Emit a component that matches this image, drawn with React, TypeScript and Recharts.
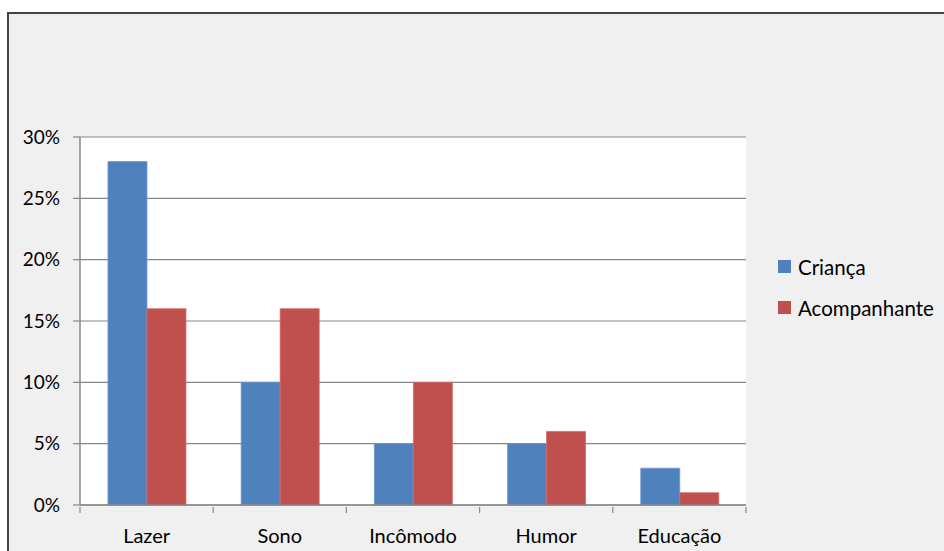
import React from "react";
import { BarChart, Bar, XAxis, YAxis, CartesianGrid } from "recharts";

const categories = ["Lazer", "Sono", "Incômodo", "Humor", "Educação"];
const criancaValues = [28, 10, 5, 5, 3];
const acompanhanteValues = [16, 16, 10, 6, 1];
const yTicks = [0, 5, 10, 15, 20, 25, 30];

const seriesNames = { crianca: "Criança", acompanhante: "Acompanhante" };
const colors = { crianca: "#4F81BD", acompanhante: "#C0504D" };

const data = categories.map((name, i) => ({
  name,
  crianca: criancaValues[i],
  acompanhante: acompanhanteValues[i],
}));

const W = 944;
const H = 551;
const xAxisHeight = 46;
const yAxisWidth = 60;
const margin = { top: 137, right: 198, bottom: 0, left: 20 };
const plotWidth = W - margin.left - margin.right - yAxisWidth;
const band = plotWidth / categories.length;
const FONT = "Lato, 'Open Sans', sans-serif";
const FONT_SIZE = 19;

const XTick = (props: any) => {
  const { x, y, payload, index } = props;
  const left = x - band / 2;
  return (
    <g>
      <line x1={left} x2={left} y1={y} y2={y + 6} stroke="#888" strokeWidth={1.2} />
      {index === categories.length - 1 && (
        <line x1={left + band} x2={left + band} y1={y} y2={y + 6} stroke="#888" strokeWidth={1.2} />
      )}
      <text x={x} y={y + 36} textAnchor="middle" fontSize={20} fill="#000" fontFamily={FONT}>
        {payload.value}
      </text>
    </g>
  );
};

const LegendBox = () => (
  <div
    style={{
      position: "absolute",
      left: 778,
      top: 246,
      fontFamily: FONT,
      fontSize: 20.5,
      color: "#000",
    }}
  >
    {(["crianca", "acompanhante"] as const).map((k) => (
      <div key={k} style={{ display: "flex", alignItems: "center", height: 41 }}>
        <span
          style={{
            display: "inline-block",
            width: 13,
            height: 13,
            background: colors[k],
            marginRight: 7,
          }}
        />
        <span>{seriesNames[k]}</span>
      </div>
    ))}
  </div>
);

export default function App() {
  return (
    <div
      style={{
        position: "fixed",
        left: 0,
        top: 0,
        width: W,
        height: H,
        overflow: "hidden",
        background: "#fff",
      }}
    >
      <div
        style={{
          position: "absolute",
          left: 7,
          top: 12,
          width: 960,
          height: 570,
          border: "2px solid #444",
          background: "#f0f0f0",
          boxSizing: "border-box",
        }}
      />
      <div style={{ position: "absolute", left: 0, top: 0 }}>
        <BarChart
          width={W}
          height={H}
          data={data}
          margin={margin}
          barCategoryGap="21%"
          barGap={0}
        >
          <CartesianGrid
            vertical={false}
            stroke="#868686"
            strokeWidth={1.2}
            fill="#ffffff"
          />
          <XAxis
            dataKey="name"
            axisLine={{ stroke: "#888", strokeWidth: 1.5 }}
            tickLine={false}
            tick={<XTick />}
            tickSize={0}
            interval={0}
            height={xAxisHeight}
          />
          <YAxis
            width={yAxisWidth}
            domain={[0, 30]}
            ticks={yTicks}
            interval={0}
            tickFormatter={(v: number) => `${v}%`}
            axisLine={{ stroke: "#888", strokeWidth: 1.5 }}
            tickLine={{ stroke: "#888", strokeWidth: 1.2 }}
            tickSize={7}
            tickMargin={13}
            tick={{ fontSize: FONT_SIZE, fill: "#000", fontFamily: FONT }}
          />
          <Bar
            dataKey="crianca"
            name={seriesNames.crianca}
            fill={colors.crianca}
            stroke="#6d98cc"
            strokeWidth={0.8}
            isAnimationActive={false}
          />
          <Bar
            dataKey="acompanhante"
            name={seriesNames.acompanhante}
            fill={colors.acompanhante}
            stroke="#d06a67"
            strokeWidth={0.8}
            isAnimationActive={false}
          />
        </BarChart>
      </div>
      <LegendBox />
    </div>
  );
}
